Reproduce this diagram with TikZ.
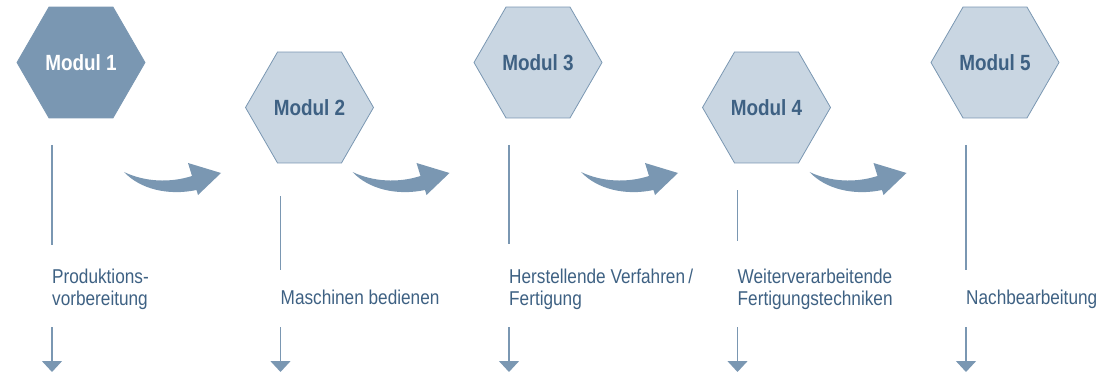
\documentclass[tikz,border=0pt]{standalone}
\usepackage{fontspec}
\setmainfont{Liberation Sans}[FakeStretch=0.86]
\usetikzlibrary{shapes.geometric,arrows.meta}
\definecolor{modfill}{HTML}{7A97B2}
\definecolor{modlight}{HTML}{C9D6E2}
\definecolor{modtext}{HTML}{3E6183}
\begin{document}
\begin{tikzpicture}%
	[x=1pt, y=-1pt,
	modul/.style={regular polygon, regular polygon sides=6, minimum size=128pt, inner sep=0pt, draw=modfill, line width=0.8pt, fill=modlight, text=modtext, font=\fontsize{22}{25}\selectfont\bfseries},
	modulfirst/.style={modul, fill=modfill, text=white},
	stem/.style={draw=modfill, line width=1.5pt},
	stemdown/.style={stem, -{Triangle[width=20pt,length=11pt]}},
	modlabel/.style={anchor=base west, inner sep=0pt, align=left, text=modtext, font=\fontsize{20}{22}\selectfont},
	swoosh/.style={fill=modfill}]
\useasboundingbox (0,0) rectangle (1107,374);
%%
%% The modules
%%
\node[modulfirst] (modul1) at (81,62.5) {Modul 1};
\node[modul] (modul2) at (309.5,107.5) {Modul 2};
\node[modul] (modul3) at (538,62.5) {Modul 3};
\node[modul] (modul4) at (766.5,107.5) {Modul 4};
\node[modul] (modul5) at (995,62.5) {Modul 5};
%%
%% Curved arrows between the modules
%%
\foreach \dx in {0,228.5,457,685.5} {
\fill[swoosh, shift={(\dx,0)}] (124,172) .. controls (145,182) and (170,183) .. (192,176) -- (188,163) -- (221,173) -- (198,195) -- (196.5,190) .. controls (168,196) and (140,189) .. cycle;
}
%%
%% Lines, labels and arrows below
%%
\foreach \n/\x/\ya/\yb in {1/52/145/245, 2/280.5/196/270, 3/509/145/244, 4/737.5/190/241, 5/966/145/270} {
\coordinate (stemtop\n) at (\x,\ya);
\coordinate (stembot\n) at (\x,\yb);
\coordinate (arrowtop\n) at (\x,327);
\coordinate (arrowend\n) at (\x,372);
\draw[stem] (stemtop\n) -- (stembot\n);
\draw[stemdown] (arrowtop\n) -- (arrowend\n);
}
%% two-line labels sit on the baseline of their last line
\node[modlabel] (text1) at (52,305) {Produktions-\\vorbereitung};
\node[modlabel] (text2) at (280.5,304) {Maschinen bedienen};
\node[modlabel] (text3) at (509,305) {Herstellende Verfahren\,/\\Fertigung};
\node[modlabel] (text4) at (737.5,305) {Weiterverarbeitende\\Fertigungstechniken};
\node[modlabel] (text5) at (966,304) {Nachbearbeitung};
%%
\end{tikzpicture}
\end{document}
